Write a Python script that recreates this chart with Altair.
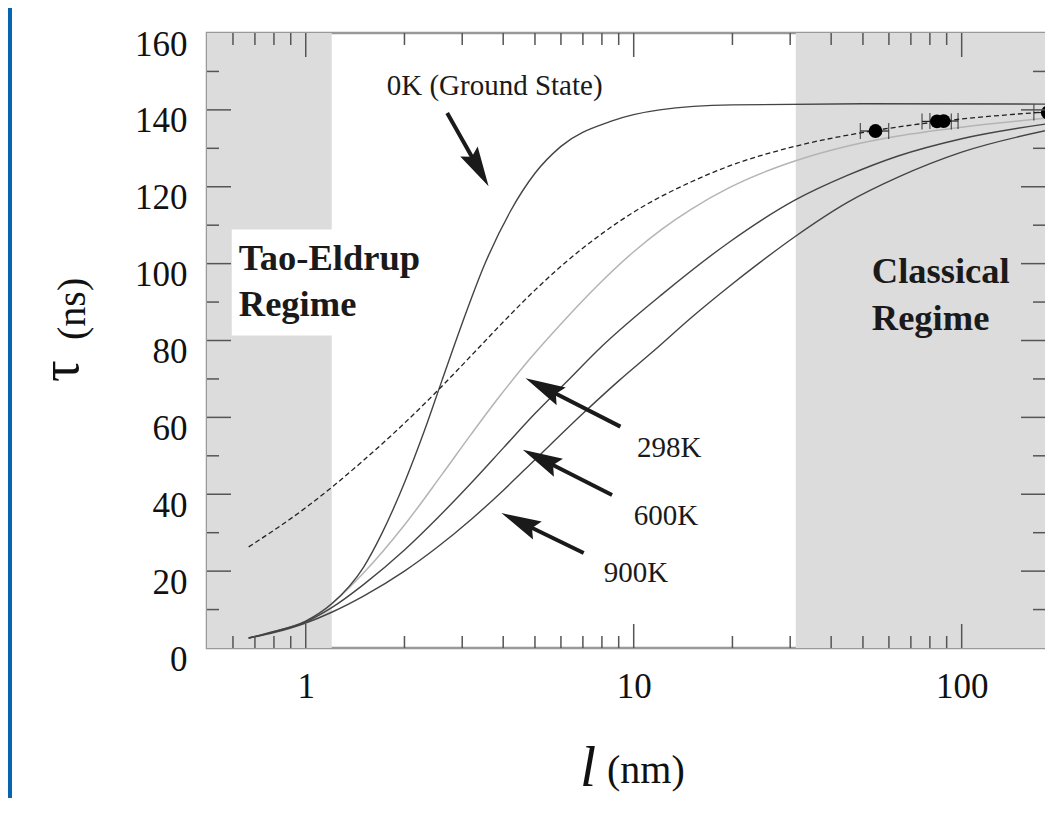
import math
import altair as alt
import pandas as pd

# ---------------- data ----------------
l_0K = [0.67, 0.8, 1.0, 1.2, 1.5, 1.7, 2.0, 2.3, 2.6, 3.0, 3.5, 4.2, 5.0, 6.0, 8.5, 12, 20, 50, 190]
tau_0K = [2.6, 4.3, 7.0, 11.5, 21.0, 29.5, 43, 56.5, 69.5, 84.5, 99.5, 113.5, 123.5, 130.5, 137, 140, 141.3, 141.6, 141.5]

l_dash = [0.67, 1.0, 1.5, 2.0, 2.5, 3.0, 3.5, 4.0, 5.0, 6.0, 8.0, 10, 15, 20, 31, 55, 86, 190]
tau_dash = [26.3, 36.5, 48.8, 58.5, 66.6, 73.6, 79.6, 84.8, 93.1, 99.3, 107.8, 113.4, 121.3, 125.7, 130.5, 134.7, 137.0, 139.6]

l_298 = [0.67, 0.8, 1.0, 1.2, 1.5, 2.0, 2.6, 3.2, 3.87, 4.79, 6.0, 7.65, 10, 12.2, 15, 19.5, 25, 31, 45, 64, 100, 190]
tau_298 = [2.6, 4.3, 7.0, 11.5, 19.5, 32, 45.1, 55.7, 65.1, 74.9, 84.3, 93.8, 103.1, 109.0, 114.2, 119.7, 123.8, 126.7, 130.6, 133.2, 135.5, 138.0]

l_600 = [0.67, 0.8, 1.0, 1.2, 1.5, 2.0, 2.5, 3.2, 4.0, 5.0, 6.2, 8.0, 12.2, 19.5, 31, 45, 64, 100, 190]
tau_600 = [2.6, 4.2, 6.8, 10.5, 16.5, 25.5, 33.5, 43, 52, 61, 69, 78.5, 92, 105.5, 116.5, 123, 128, 132.5, 136.6]

l_900 = [0.67, 0.8, 1.0, 1.2, 1.5, 2.0, 2.5, 3.2, 4.0, 5.0, 7.0, 9.0, 11.4, 15, 19.5, 24, 31, 45, 64, 100, 190]
tau_900 = [2.6, 4.0, 6.5, 9.3, 13.5, 20, 26, 33.5, 41, 49, 61, 69.5, 77, 86, 94, 100, 107, 116, 122.5, 129, 135]

# experimental points with horizontal error bars
pt_l = [54.6, 84.1, 88.1, 183]
pt_tau = [134.5, 137.0, 137.1, 139.3]
pt_lo = [49.1, 75.7, 80.0, 166]
pt_hi = [59.9, 93.0, 97.5, 200]

# axis range
XMIN, XMAX = 0.5, 179.5
YMAX = 160

# shaded regimes
reg_lo = [XMIN, 31.2]
reg_hi = [1.2, XMAX]
# white label box
box_l = [0.595, 1.3]
box_tau = [81.3, 108.9]

# arrows (tail -> tip)
arr_tail_l = [2.70, 9.11, 8.59, 7.04]
arr_tail_tau = [139.2, 57.6, 39.8, 24.7]
arr_tip_l = [3.61, 4.68, 4.59, 3.95]
arr_tip_tau = [120.1, 70.2, 51.6, 35.1]

# annotation labels
lab_text = ["0K (Ground State)", "298K", "600K", "900K"]
lab_l = [1.766, 10.23, 10.0, 8.1]
lab_tau = [144.0, 49.7, 31.9, 17.3]

reg_text = ["Tao-Eldrup", "Regime", "Classical", "Regime"]
reg_l = [0.625, 0.625, 53.2, 53.2]
reg_tau = [98.4, 86.3, 95.0, 82.8]

x_major = [1, 10, 100]
x_minor = [0.6, 0.7, 0.8, 0.9, 2, 3, 4, 5, 6, 7, 8, 9, 20, 30, 40, 50, 60, 70, 80, 90]
y_major = [20, 40, 60, 80, 100, 120, 140]
y_minor = [10, 30, 50, 70, 90, 110, 130, 150]
y_labels = [0, 20, 40, 60, 80, 100, 120, 140, 160]

# ---------------- layout ----------------
W, H = 838, 615
FONT = "Liberation Serif"
TICKC = "#555555"


def px(l):
    return (math.log10(l) - math.log10(XMIN)) / (math.log10(XMAX) - math.log10(XMIN)) * W


def py(t):
    return H - t / YMAX * H


xs = alt.Scale(type="log", domain=[XMIN, XMAX], nice=False)
ys = alt.Scale(domain=[0, YMAX], nice=False)
xaxis = alt.Axis(values=x_major, format="~g", title=None, labelPadding=21,
                 labelFontSize=35, labelFont=FONT, labelColor="#111")
yaxis = alt.Axis(values=y_labels, title=None, labelPadding=20, labelOffset=11,
                 labelFontSize=35, labelFont=FONT, labelColor="#111")

X = lambda f="l": alt.X(f"{f}:Q", scale=xs, axis=xaxis)
Y = lambda f="tau": alt.Y(f"{f}:Q", scale=ys, axis=yaxis)

layers = []

# blue frame strip at left
layers.append(alt.Chart(pd.DataFrame({"a": [0]})).mark_rect(color="#0565b0").encode(
    x=alt.value(-199), x2=alt.value(-195), y=alt.value(-25), y2=alt.value(775)))

# shaded regimes
reg_df = pd.DataFrame({"l": reg_lo, "l2": reg_hi, "tau": [0, 0], "tau2": [YMAX, YMAX]})
layers.append(alt.Chart(reg_df).mark_rect(color="#dcdcdc").encode(
    x=X(), x2="l2:Q", y=Y(), y2="tau2:Q"))

box_df = pd.DataFrame({"l": [box_l[0]], "l2": [box_l[1]], "tau": [box_tau[0]], "tau2": [box_tau[1]]})
layers.append(alt.Chart(box_df).mark_rect(color="white").encode(
    x=X(), x2="l2:Q", y=Y(), y2="tau2:Q"))


def curve(ls, ts, color, width=1.4, dash=None):
    df = pd.DataFrame({"l": ls, "tau": ts})
    kw = dict(color=color, strokeWidth=width, interpolate="monotone", clip=True)
    if dash:
        kw["strokeDash"] = dash
    return alt.Chart(df).mark_line(**kw).encode(x=X(), y=Y())


layers.append(curve(l_298, tau_298, "#b4b4b4", 1.5))
layers.append(curve(l_600, tau_600, "#444444", 1.4))
layers.append(curve(l_900, tau_900, "#444444", 1.4))
layers.append(curve(l_0K, tau_0K, "#444444", 1.4))
layers.append(curve(l_dash, tau_dash, "#222222", 1.3, [5, 3]))

# error bars and points
eb_df = pd.DataFrame({"l": pt_lo, "l2": pt_hi, "tau": pt_tau})
layers.append(alt.Chart(eb_df).mark_rule(color="#222", strokeWidth=1.2, clip=True).encode(
    x=X(), x2="l2:Q", y=Y()))
cap_df = pd.DataFrame({"l": pt_lo + pt_hi[:3], "tau": pt_tau + pt_tau[:3]})
layers.append(alt.Chart(cap_df).mark_tick(orient="vertical", size=16, thickness=1.3, color="#222").encode(
    x=X(), y=Y()))
pt_df = pd.DataFrame({"l": pt_l, "tau": pt_tau})
layers.append(alt.Chart(pt_df).mark_circle(size=190, color="#000", opacity=1).encode(x=X(), y=Y()))

# inward ticks
MAJ, MIN_ = 24, 12


def xticks(vals, length, top):
    df = pd.DataFrame({"l": vals})
    if top:
        enc = dict(y=alt.value(0), y2=alt.value(length))
    else:
        enc = dict(y=alt.value(H), y2=alt.value(H - length))
    return alt.Chart(df).mark_rule(color=TICKC, strokeWidth=1.5).encode(x=X(), **enc)


def yticks(vals, length, right):
    df = pd.DataFrame({"tau": vals})
    if right:
        enc = dict(x=alt.value(W), x2=alt.value(W - length))
    else:
        enc = dict(x=alt.value(0), x2=alt.value(length))
    return alt.Chart(df).mark_rule(color=TICKC, strokeWidth=1.5).encode(y=Y(), **enc)


for top in (False, True):
    layers.append(xticks(x_major, MAJ, top))
    layers.append(xticks(x_minor, MIN_, top))
for right in (False, True):
    layers.append(yticks(y_major, MAJ, right))
    layers.append(yticks(y_minor, MIN_, right))

# arrows
HEAD = 40.0
ang, shaft_l, shaft_t = [], [], []
for tl, tt, hl, ht in zip(arr_tail_l, arr_tail_tau, arr_tip_l, arr_tip_tau):
    dx = px(hl) - px(tl)
    dy = py(ht) - py(tt)
    ang.append(math.degrees(math.atan2(dx, -dy)) % 360)
    length = math.hypot(dx, dy)
    frac = (HEAD * 0.5) / length
    shaft_l.append(10 ** (math.log10(hl) + frac * (math.log10(tl) - math.log10(hl))))
    shaft_t.append(ht + frac * (tt - ht))

shaft_df = pd.DataFrame({"l": arr_tail_l, "tau": arr_tail_tau, "l2": shaft_l, "tau2": shaft_t})
layers.append(alt.Chart(shaft_df).mark_rule(color="#1a1a1a", strokeWidth=4).encode(
    x=X(), y=Y(), x2="l2:Q", y2="tau2:Q"))
head_df = pd.DataFrame({"l": arr_tip_l, "tau": arr_tip_tau, "ang": ang})
layers.append(alt.Chart(head_df).mark_point(
    shape="M0,0L0.5,2L0,1.7L-0.5,2Z", filled=True, size=HEAD ** 2, color="#1a1a1a", opacity=1,
    strokeWidth=0).encode(x=X(), y=Y(), angle=alt.Angle("ang:Q", scale=None)))

# annotation texts
lab_df = pd.DataFrame({"l": lab_l, "tau": lab_tau, "t": lab_text})
layers.append(alt.Chart(lab_df).mark_text(font=FONT, fontSize=29, align="left", baseline="alphabetic",
                                          color="#1a1a1a").encode(x=X(), y=Y(), text="t:N"))
reg_df2 = pd.DataFrame({"l": reg_l, "tau": reg_tau, "t": reg_text})
layers.append(alt.Chart(reg_df2).mark_text(font=FONT, fontSize=36.5, fontWeight="bold", align="left",
                                           baseline="alphabetic", color="#1a1a1a").encode(
    x=X(), y=Y(), text="t:N"))

# axis titles
one = pd.DataFrame({"a": [0]})
layers.append(alt.Chart(one).mark_text(text="l", font=FONT, fontSize=58, fontStyle="italic", align="left",
                                       baseline="alphabetic", color="#111").encode(
    x=alt.value(373), y=alt.value(753)))
layers.append(alt.Chart(one).mark_text(text="(nm)", font=FONT, fontSize=40, align="left",
                                       baseline="alphabetic", color="#111").encode(
    x=alt.value(400), y=alt.value(750)))
layers.append(alt.Chart(one).mark_text(text="τ", font=FONT, fontSize=54, angle=270, align="left",
                                       baseline="alphabetic", color="#111").encode(
    x=alt.value(-129), y=alt.value(349)))
layers.append(alt.Chart(one).mark_text(text="(ns)", font=FONT, fontSize=40, angle=270, align="left",
                                       baseline="alphabetic", color="#111").encode(
    x=alt.value(-122), y=alt.value(307)))

chart = alt.layer(*layers).properties(
    width=W, height=H,
    padding={"left": 199, "top": 25, "right": 0, "bottom": 150},
    autosize=alt.AutoSizeParams(type="none"),
).configure_view(stroke="#999999", strokeWidth=2.5).configure_axis(
    domain=False, ticks=False, grid=False)

chart.save("out.html", embed_options={"renderer": "svg", "actions": False})
